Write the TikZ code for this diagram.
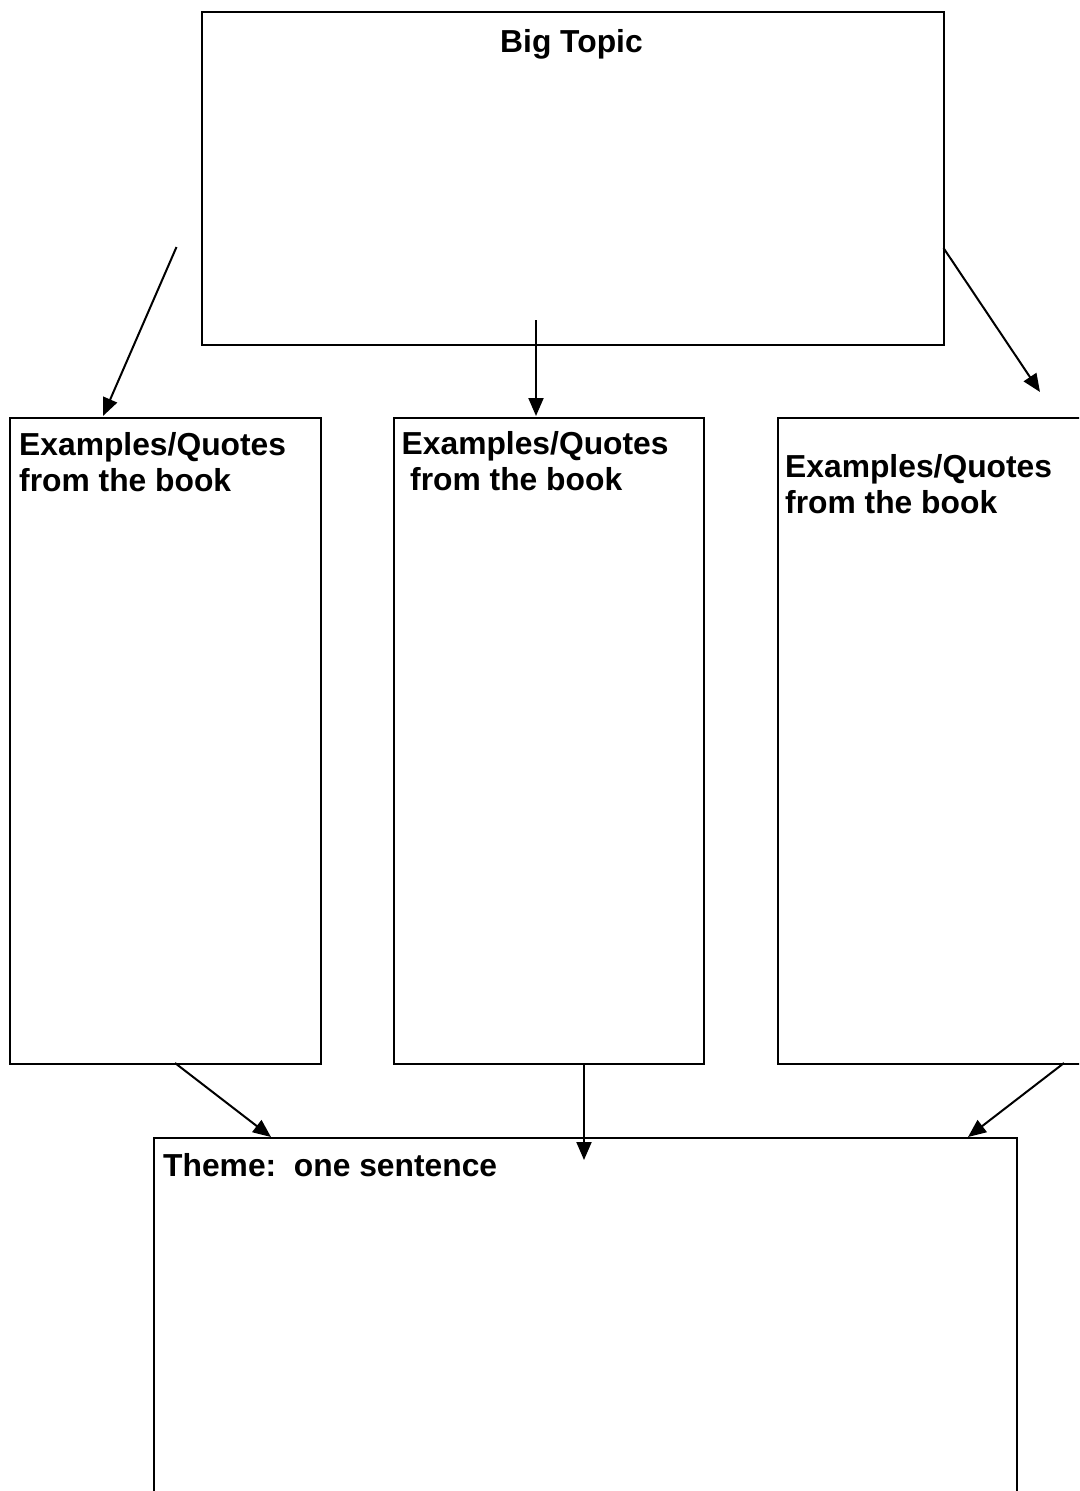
\documentclass[tikz,border=0pt]{standalone}
\usepackage{fontspec}
\setmainfont{Liberation Sans}
\usetikzlibrary{arrows.meta}
\tikzset{
  box/.style={draw=black, line width=2pt, inner sep=0pt, anchor=north west},
  lbl/.style={anchor=base west, inner sep=0pt, font=\bfseries\fontsize{31.8}{36}\selectfont},
  conn/.style={line width=2pt, -{Triangle[length=18pt,width=15pt]}}
}
\begin{document}
\begin{tikzpicture}[x=1pt,y=-1pt]
\useasboundingbox (0,0) rectangle (1079,1491);
\clip (0,0) rectangle (1079,1491);
% boxes
\node[box, minimum width=742pt, minimum height=333pt] (big) at (201,10.5) {};
\node[box, minimum width=311pt, minimum height=646pt] (lb) at (8.5,417) {};
\node[box, minimum width=310pt, minimum height=646pt] (mb) at (393,417) {};
\node[box, minimum width=340pt, minimum height=646pt] (rb) at (776.7,417) {};
\node[box, minimum width=863pt, minimum height=400pt] (tb) at (153,1137) {};
% texts
\node[lbl] (bigt) at (500,52) {Big Topic};
\node[lbl] (lt1) at (19,455) {Examples/Quotes};
\node[lbl] (lt2) at (19,491) {from the book};
\node[lbl] (mt1) at (401.5,454) {Examples/Quotes};
\node[lbl] (mt2) at (410,490) {from the book};
\node[lbl] (rt1) at (785,477) {Examples/Quotes};
\node[lbl] (rt2) at (785,513) {from the book};
\node[lbl] (tt) at (163,1176) {Theme:\ \ one sentence};
% connector ends
\coordinate (a1s) at (176.5,247);
\coordinate (a1e) at (103,416);
\coordinate (a2s) at (536,320);
\coordinate (a2e) at (536,416);
\coordinate (a3s) at (943.5,248);
\coordinate (a3e) at (1040,392);
\coordinate (a4s) at (175,1063);
\coordinate (a4e) at (271,1137);
\coordinate (a5s) at (584,1063);
\coordinate (a5e) at (584,1160);
\coordinate (a6s) at (1064,1063);
\coordinate (a6e) at (968,1137);
% connectors
\draw[conn] (a1s) -- (a1e);
\draw[conn] (a2s) -- (a2e);
\draw[conn] (a3s) -- (a3e);
\draw[conn] (a4s) -- (a4e);
\draw[conn] (a5s) -- (a5e);
\draw[conn] (a6s) -- (a6e);
\end{tikzpicture}
\end{document}
